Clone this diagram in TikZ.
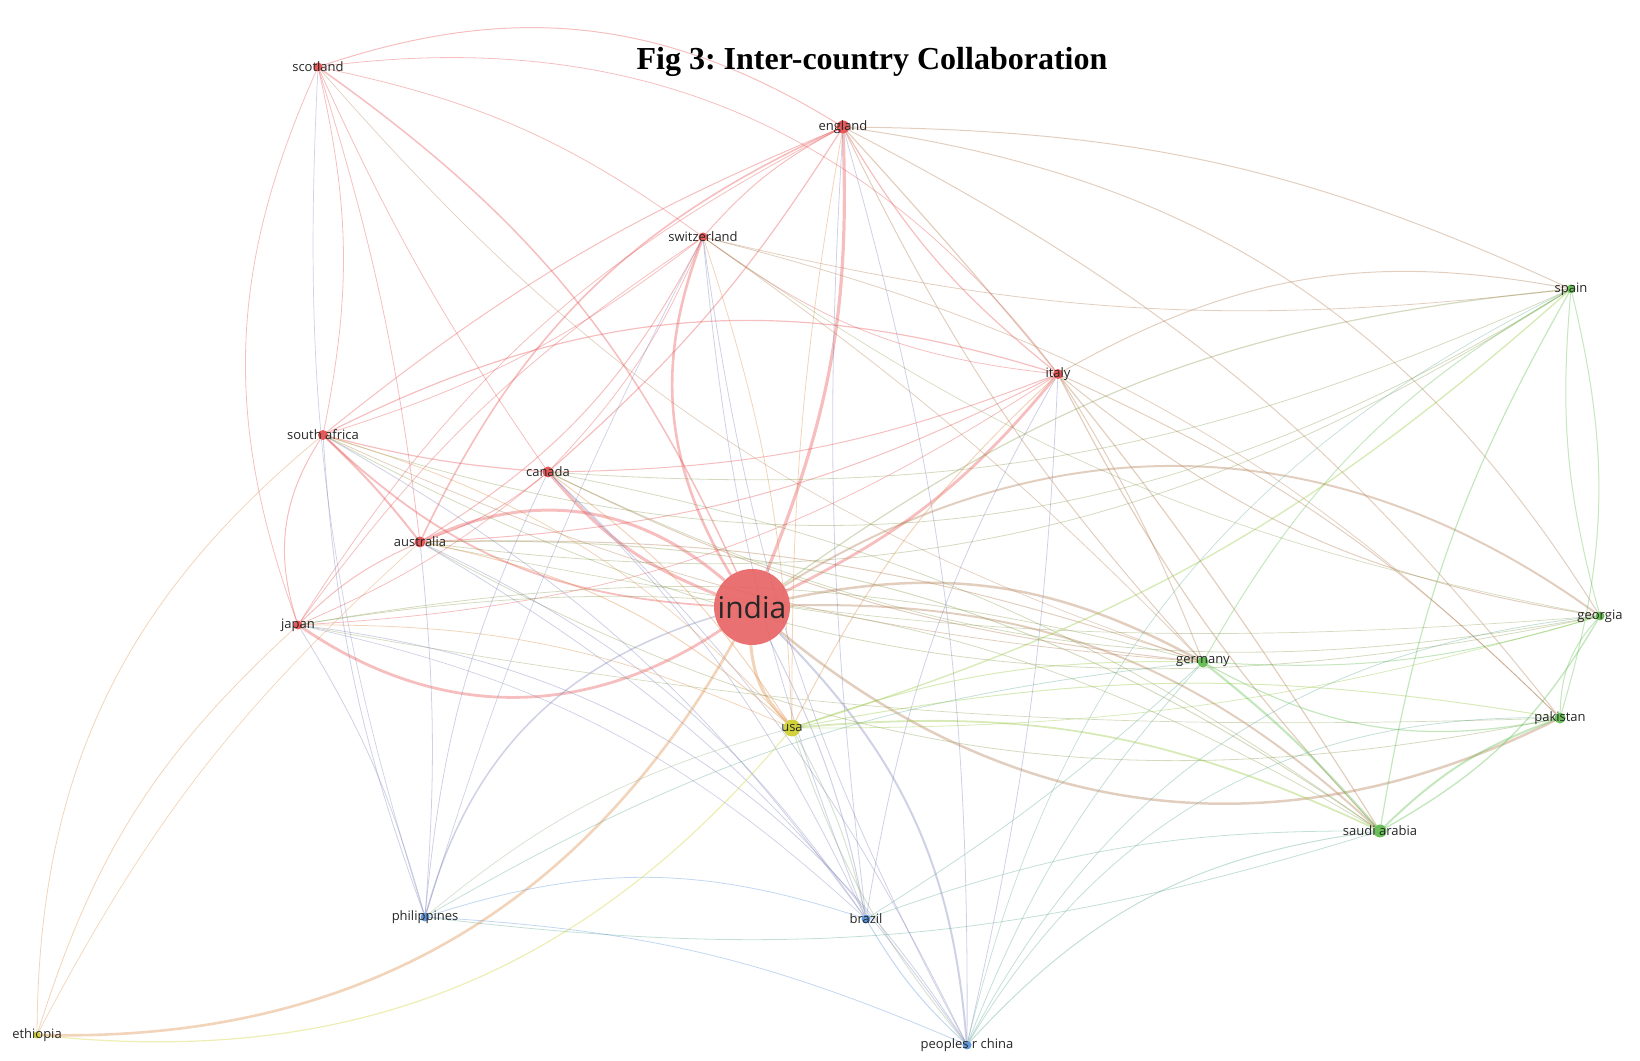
\documentclass[tikz,border=0pt]{standalone}
\usepackage{fontspec}
\setmainfont{Open Sans}
\newfontfamily\titlefont{Liberation Serif}
\usetikzlibrary{backgrounds}
\frenchspacing
\definecolor{vosred}{RGB}{228,70,70}
\definecolor{vosgreen}{RGB}{90,185,70}
\definecolor{vosblue}{RGB}{80,140,215}
\definecolor{vosyellow}{RGB}{205,205,40}
\colorlet{rg}{vosred!60!vosgreen}
\colorlet{gr}{vosgreen!70!vosred}
\colorlet{ry}{vosred!55!vosyellow}
\colorlet{rb}{vosblue!75!vosred}
\colorlet{gb}{vosgreen!50!vosblue}
\colorlet{gy}{vosgreen!50!vosyellow}
\colorlet{by}{vosblue!50!vosyellow}
\tikzset{x=0.5pt, y=0.5pt,
  link/.style={draw opacity=0.35, line cap=round},
  country dot/.style={circle, inner sep=0pt, draw=none, fill opacity=0.9},
  country name/.style={font=\fontsize{6.5}{6.5}\selectfont, text=black!85, inner sep=0.5pt},
  fig title/.style={font=\titlefont\bfseries\fontsize{16}{16}\selectfont, anchor=base}}
\def\Country#1#2#3#4#5{%
  \node[country dot, fill=#3, minimum size=#4] (#1) at (#2) {};
  \node[country name] (#1-name) at (#1) {#5};
}
\def\Link#1#2#3#4#5{%
  \begin{pgfonlayer}{background}
  \draw[link, draw=#5, line width={0.5*#4pt}] (#1) to[bend left=#3] (#2);
  \end{pgfonlayer}
}
\begin{document}
\begin{tikzpicture}
\useasboundingbox (0,0) rectangle (1640,1061);
\node[fig title] (title) at (872,991) {Fig 3: Inter-country Collaboration};
% red cluster
\Country{india}{752,454}{vosred!85!white}{38pt}{\fontsize{15}{15}\selectfont india}
\Country{england}{843,934}{vosred}{6.5pt}{england}
\Country{scotland}{318,994}{vosred}{4.5pt}{scotland}
\Country{switzerland}{703,824}{vosred}{4.5pt}{switzerland}
\Country{italy}{1058,687}{vosred}{5pt}{italy}
\Country{southafrica}{323,626}{vosred}{5pt}{south africa}
\Country{canada}{548,589}{vosred}{5.5pt}{canada}
\Country{australia}{420,519}{vosred}{5.5pt}{australia}
\Country{japan}{298,436}{vosred}{4.5pt}{japan}
% yellow cluster
\Country{usa}{792,333}{vosyellow}{8.5pt}{usa}
\Country{ethiopia}{37,26}{vosyellow}{3.5pt}{ethiopia}
% green cluster
\Country{germany}{1203,399}{vosgreen}{5.5pt}{germany}
\Country{spain}{1571,772}{vosgreen}{4.5pt}{spain}
\Country{georgia}{1600,445}{vosgreen}{4.5pt}{georgia}
\Country{pakistan}{1560,343}{vosgreen}{5.5pt}{pakistan}
\Country{saudiarabia}{1380,230}{vosgreen}{6.5pt}{saudi arabia}
% blue cluster
\Country{philippines}{425,144}{vosblue}{4.5pt}{philippines}
\Country{brazil}{866,142}{vosblue}{4.5pt}{brazil}
\Country{china}{967,16}{vosblue}{4.5pt}{peoples r china}
% red - red
\Link{india}{england}{-12}{3.2}{vosred}
\Link{india}{switzerland}{26}{2.6}{vosred}
\Link{india}{canada}{14}{3}{vosred}
\Link{india}{australia}{-33}{3}{vosred}
\Link{india}{japan}{34}{2.8}{vosred}
\Link{india}{italy}{-12}{2.8}{vosred}
\Link{india}{southafrica}{20}{1.8}{vosred}
\Link{india}{scotland}{-15}{1.5}{vosred}
\Link{scotland}{england}{25}{1}{vosred}
\Link{scotland}{italy}{30}{0.8}{vosred}
\Link{scotland}{switzerland}{12}{0.8}{vosred}
\Link{scotland}{southafrica}{12}{0.8}{vosred}
\Link{scotland}{japan}{-22}{0.8}{vosred}
\Link{scotland}{australia}{5}{0.8}{vosred}
\Link{scotland}{canada}{-5}{0.8}{vosred}
\Link{england}{switzerland}{-10}{1}{vosred}
\Link{england}{italy}{-10}{1.2}{vosred}
\Link{england}{canada}{8}{1.2}{vosred}
\Link{england}{australia}{-20}{1.6}{vosred}
\Link{england}{southafrica}{-8}{1}{vosred}
\Link{england}{japan}{-15}{0.8}{vosred}
\Link{switzerland}{canada}{10}{0.8}{vosred}
\Link{switzerland}{australia}{15}{1}{vosred}
\Link{switzerland}{southafrica}{10}{0.8}{vosred}
\Link{switzerland}{japan}{-10}{0.8}{vosred}
\Link{switzerland}{italy}{-15}{0.8}{vosred}
\Link{italy}{canada}{10}{1}{vosred}
\Link{italy}{australia}{12}{1}{vosred}
\Link{southafrica}{italy}{22}{1.2}{vosred}
\Link{italy}{japan}{15}{0.8}{vosred}
\Link{canada}{australia}{10}{1}{vosred}
\Link{southafrica}{canada}{-5}{1.2}{vosred}
\Link{canada}{japan}{8}{0.8}{vosred}
\Link{southafrica}{australia}{4}{2}{vosred}
\Link{australia}{japan}{-10}{1}{vosred}
\Link{southafrica}{japan}{-25}{1}{vosred}
% red - green
\Link{india}{germany}{20}{2.5}{rg}
\Link{india}{georgia}{34}{2}{rg}
\Link{india}{pakistan}{-33}{2.5}{rg}
\Link{india}{saudiarabia}{22}{2}{rg}
\Link{india}{spain}{15}{1.2}{gr}
\Link{england}{georgia}{25}{1}{rg}
\Link{england}{spain}{12}{1}{rg}
\Link{england}{pakistan}{12}{1}{rg}
\Link{england}{saudiarabia}{5}{1.2}{rg}
\Link{england}{germany}{-8}{1}{rg}
\Link{italy}{spain}{20}{1}{rg}
\Link{italy}{georgia}{-15}{1}{rg}
\Link{italy}{pakistan}{10}{1}{rg}
\Link{italy}{saudiarabia}{-8}{1.2}{rg}
\Link{italy}{germany}{5}{1}{rg}
\Link{switzerland}{spain}{-10}{0.8}{rg}
\Link{switzerland}{pakistan}{15}{0.8}{rg}
\Link{switzerland}{germany}{5}{0.8}{rg}
\Link{switzerland}{georgia}{-12}{0.7}{gr}
\Link{scotland}{germany}{-15}{0.7}{rg}
\Link{canada}{germany}{-10}{1}{rg}
\Link{canada}{saudiarabia}{12}{0.8}{gr}
\Link{canada}{georgia}{-18}{0.8}{gr}
\Link{canada}{spain}{-14}{0.8}{gr}
\Link{australia}{germany}{10}{1}{rg}
\Link{australia}{saudiarabia}{18}{1}{gr}
\Link{australia}{pakistan}{-20}{0.8}{gr}
\Link{australia}{spain}{-20}{0.8}{gr}
\Link{australia}{georgia}{-8}{0.7}{gr}
\Link{southafrica}{germany}{-10}{0.8}{rg}
\Link{southafrica}{spain}{-25}{0.8}{gr}
\Link{southafrica}{georgia}{-20}{0.8}{gr}
\Link{japan}{germany}{12}{0.8}{gr}
\Link{japan}{saudiarabia}{20}{0.8}{gr}
\Link{japan}{pakistan}{-6}{0.7}{gr}
% red - blue
\Link{india}{philippines}{-29}{1.5}{rb}
\Link{india}{brazil}{8}{1}{rb}
\Link{india}{china}{20}{2}{rb}
\Link{australia}{philippines}{5}{0.8}{rb}
\Link{australia}{brazil}{15}{0.8}{rb}
\Link{australia}{china}{12}{0.8}{rb}
\Link{japan}{philippines}{8}{0.8}{rb}
\Link{japan}{china}{25}{0.8}{rb}
\Link{japan}{brazil}{15}{0.7}{rb}
\Link{canada}{philippines}{-10}{0.8}{rb}
\Link{canada}{brazil}{10}{0.8}{rb}
\Link{canada}{china}{10}{0.8}{rb}
\Link{southafrica}{philippines}{-8}{0.8}{rb}
\Link{southafrica}{brazil}{12}{0.8}{rb}
\Link{switzerland}{brazil}{-8}{0.8}{rb}
\Link{switzerland}{china}{-10}{0.8}{rb}
\Link{switzerland}{philippines}{-5}{0.7}{rb}
\Link{england}{brazil}{-5}{0.8}{rb}
\Link{england}{china}{8}{0.8}{rb}
\Link{italy}{brazil}{-10}{0.8}{rb}
\Link{italy}{china}{5}{0.8}{rb}
\Link{scotland}{philippines}{-10}{0.7}{rb}
% red - yellow
\Link{india}{usa}{-20}{3}{ry}
\Link{india}{ethiopia}{31}{2.6}{ry}
\Link{australia}{usa}{15}{1}{ry}
\Link{canada}{usa}{10}{1}{ry}
\Link{japan}{usa}{12}{0.8}{ry}
\Link{southafrica}{usa}{15}{0.8}{ry}
\Link{england}{usa}{-5}{0.8}{ry}
\Link{switzerland}{usa}{8}{0.8}{ry}
\Link{italy}{usa}{-10}{1}{ry}
\Link{japan}{ethiopia}{-15}{0.8}{ry}
\Link{southafrica}{ethiopia}{-25}{0.8}{ry}
\Link{australia}{ethiopia}{-10}{0.7}{ry}
% green - green
\Link{germany}{spain}{15}{1}{vosgreen}
\Link{germany}{georgia}{-10}{1}{vosgreen}
\Link{germany}{pakistan}{-20}{1.2}{vosgreen}
\Link{germany}{saudiarabia}{5}{2.2}{vosgreen}
\Link{spain}{georgia}{-10}{1}{vosgreen}
\Link{spain}{pakistan}{15}{1}{vosgreen}
\Link{spain}{saudiarabia}{-10}{1.2}{vosgreen}
\Link{georgia}{pakistan}{-20}{1}{vosgreen}
\Link{georgia}{saudiarabia}{15}{1.4}{vosgreen}
\Link{pakistan}{saudiarabia}{-12}{2}{vosgreen}
% green - blue
\Link{saudiarabia}{china}{-20}{1}{gb}
\Link{saudiarabia}{philippines}{12}{0.8}{gb}
\Link{saudiarabia}{brazil}{-10}{0.8}{gb}
\Link{germany}{china}{-10}{0.8}{gb}
\Link{germany}{philippines}{-12}{0.8}{gb}
\Link{germany}{brazil}{5}{0.8}{gb}
\Link{pakistan}{china}{-30}{0.8}{gb}
\Link{georgia}{china}{-28}{0.8}{gb}
\Link{spain}{china}{-25}{0.7}{gb}
% green - yellow
\Link{usa}{germany}{10}{1}{gy}
\Link{usa}{saudiarabia}{15}{1.8}{gy}
\Link{usa}{pakistan}{10}{1}{gy}
\Link{usa}{georgia}{-8}{0.8}{gy}
\Link{usa}{spain}{-12}{1.4}{gy}
% blue - blue and blue - yellow
\Link{philippines}{brazil}{18}{0.8}{vosblue}
\Link{philippines}{china}{10}{0.8}{vosblue}
\Link{brazil}{china}{-8}{1}{vosblue}
\Link{usa}{philippines}{-12}{0.8}{by}
\Link{usa}{brazil}{8}{1}{by}
\Link{usa}{china}{-10}{1}{by}
\Link{ethiopia}{usa}{-28}{1.2}{vosyellow}
\end{tikzpicture}
\end{document}
